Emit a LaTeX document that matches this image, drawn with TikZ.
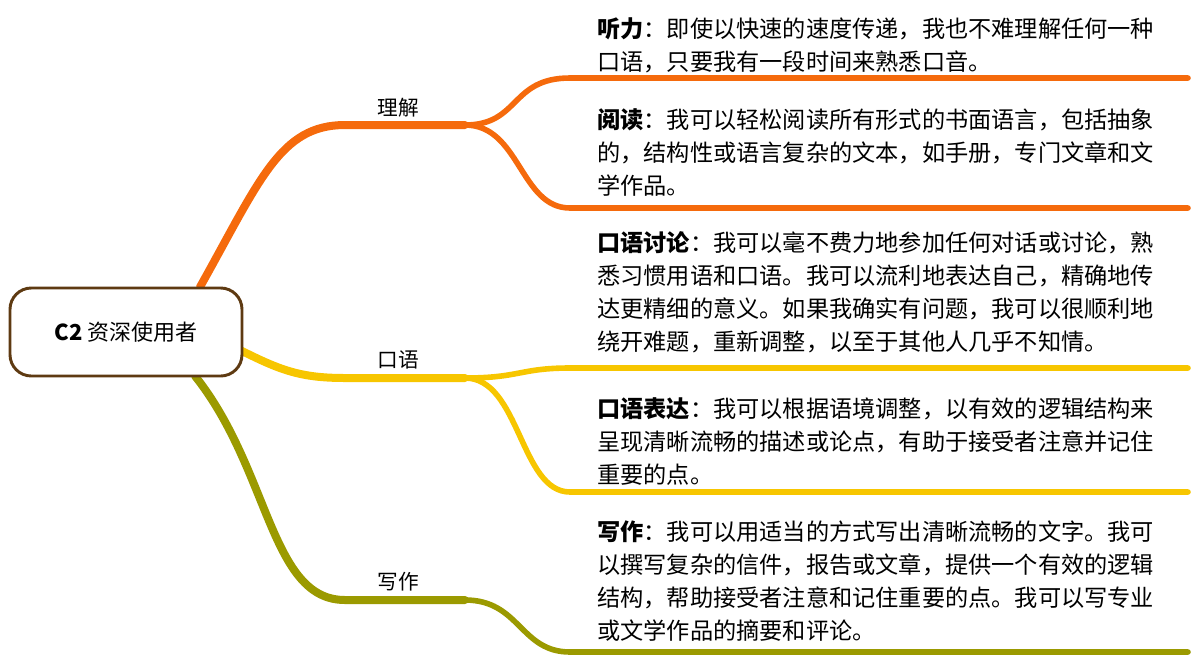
\documentclass[tikz,border=0pt]{standalone}
\usepackage{fontspec}
\setmainfont{Noto Sans CJK SC}
\begin{document}
\begin{tikzpicture}[x=0.75pt,y=-0.75pt,
  txt/.style={anchor=north west,align=left,inner sep=0pt,font=\fontsize{17.4}{24.8}\selectfont},
  lab/.style={inner sep=0pt,font=\fontsize{15.5}{17}\selectfont},
  br/.style={line width=6pt,line cap=round},
  sub/.style={line width=4.2pt,line cap=round}]
\definecolor{orng}{HTML}{F56A0C}
\definecolor{yel}{HTML}{F7C600}
\definecolor{olv}{HTML}{9B9A00}
\definecolor{brn}{HTML}{5E3A12}
\useasboundingbox (0,0) rectangle (1196,662);
% coordinates
\coordinate (o1) at (345,125); \coordinate (o2) at (465,125);
\coordinate (y1) at (345,378); \coordinate (y2) at (465,378);
\coordinate (g1) at (345,600); \coordinate (g2) at (465,600);
\coordinate (a1) at (570,78); \coordinate (a2) at (1188,78);
\coordinate (b1) at (570,208); \coordinate (b2) at (1188,208);
\coordinate (c1) at (570,368); \coordinate (c2) at (1188,368);
\coordinate (d1) at (570,492); \coordinate (d2) at (1188,492);
\coordinate (e1) at (570,652); \coordinate (e2) at (1188,652);
\coordinate (rt) at (200,287); \coordinate (rr) at (240,350); \coordinate (rb) at (195,376);
% branches
\draw[br,orng] (rt) .. controls (260,180) and (280,125) .. (o1) -- (o2);
\draw[sub,orng] (o2) .. controls (520,125) and (510,78) .. (a1) -- (a2);
\draw[sub,orng] (o2) .. controls (520,125) and (520,208) .. (b1) -- (b2);
\draw[br,yel] (rr) .. controls (280,370) and (300,378) .. (y1) -- (y2);
\draw[sub,yel] (y2) .. controls (520,378) and (520,368) .. (c1) -- (c2);
\draw[sub,yel] (y2) .. controls (520,378) and (520,492) .. (d1) -- (d2);
\draw[br,olv] (rb) .. controls (270,470) and (270,600) .. (g1) -- (g2);
\draw[sub,olv] (g2) .. controls (520,600) and (520,652) .. (e1) -- (e2);
% root
\node[draw=brn,line width=2.2pt,fill=white,rounded corners=16pt,minimum width=174pt,minimum height=66pt,font=\fontsize{16.5}{18}\selectfont] (root) at (126,332) {\textbf{C2} 资深使用者};
% labels
\node[lab] (l1) at (398,108) {理解};
\node[lab] (l2) at (398,360) {口语};
\node[lab] (l3) at (398,582) {写作};
% texts
\node[txt] (t1) at (597,17) {\textbf{听力}：即使以快速的速度传递，我也不难理解任何一种\\口语，只要我有一段时间来熟悉口音。};
\node[txt] (t2) at (597,108) {\textbf{阅读}：我可以轻松阅读所有形式的书面语言，包括抽象\\的，结构性或语言复杂的文本，如手册，专门文章和文\\学作品。};
\node[txt] (t3) at (597,231) {\textbf{口语讨论}：我可以毫不费力地参加任何对话或讨论，熟\\悉习惯用语和口语。我可以流利地表达自己，精确地传\\达更精细的意义。如果我确实有问题，我可以很顺利地\\绕开难题，重新调整，以至于其他人几乎不知情。};
\node[txt] (t4) at (597,397) {\textbf{口语表达}：我可以根据语境调整，以有效的逻辑结构来\\呈现清晰流畅的描述或论点，有助于接受者注意并记住\\重要的点。};
\node[txt] (t5) at (597,520) {\textbf{写作}：我可以用适当的方式写出清晰流畅的文字。我可\\以撰写复杂的信件，报告或文章，提供一个有效的逻辑\\结构，帮助接受者注意和记住重要的点。我可以写专业\\或文学作品的摘要和评论。};
\end{tikzpicture}
\end{document}
